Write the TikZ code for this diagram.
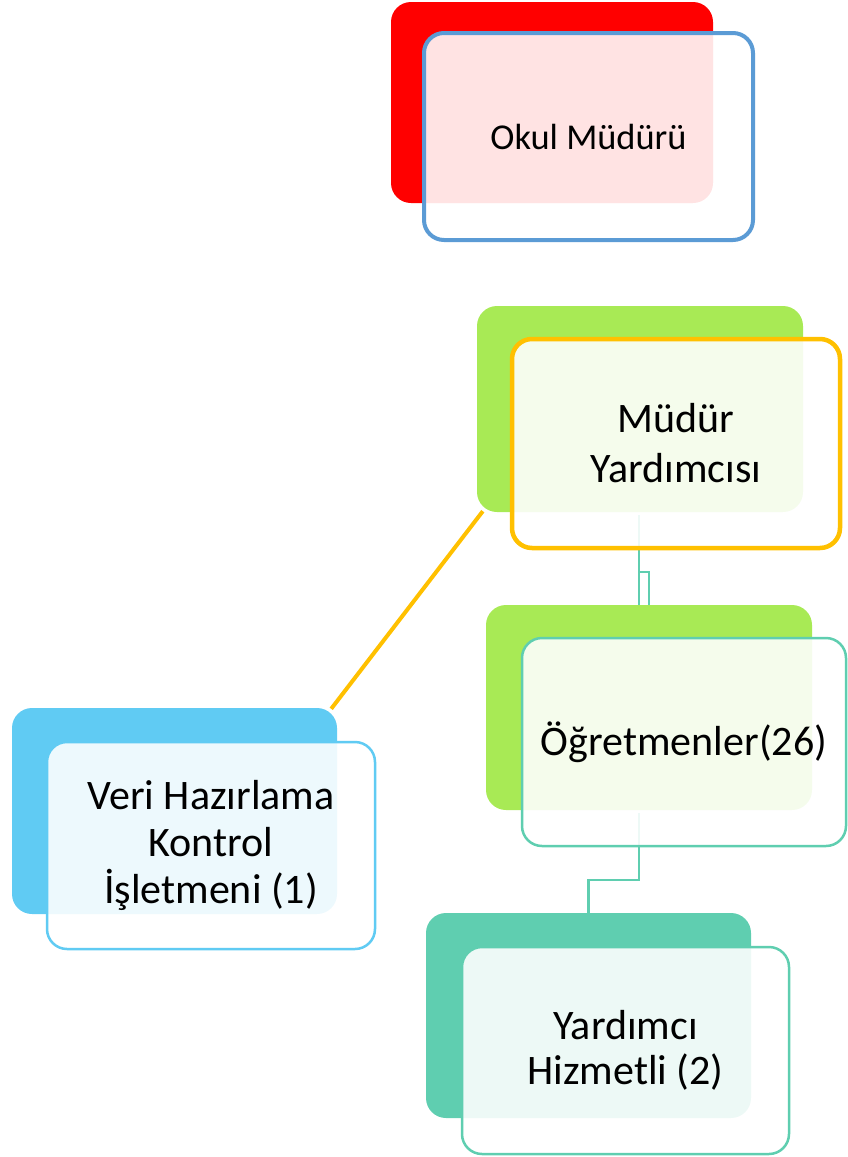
\documentclass[tikz,border=0pt]{standalone}
\usepackage{fontspec}
\setmainfont{Carlito}
\usetikzlibrary{calc}
\definecolor{cRed}{HTML}{FF0000}
\definecolor{cBlue}{HTML}{5B9BD5}
\definecolor{cGreen}{HTML}{A8EA55}
\definecolor{cOrange}{HTML}{FFC000}
\definecolor{cTeal}{HTML}{5FCEB0}
\definecolor{cSky}{HTML}{60CBF3}
\begin{document}
\begin{tikzpicture}[x=1pt,y=-1pt,
  backbox/.style={rectangle, rounded corners=20pt, inner sep=0pt, minimum width=325pt, minimum height=205pt},
  frontbox/.style={rectangle, rounded corners=20pt, fill=white, fill opacity=0.89, text opacity=1,
    text=black, inner sep=0pt, align=center, minimum width=328pt, minimum height=208pt},
  tealline/.style={draw=cTeal, line width=2.5pt},
  orangeline/.style={draw=cOrange, line width=4pt},
]
\useasboundingbox (0,0) rectangle (847,1157);

% back boxes
\node[backbox, fill=cRed, minimum width=322pt, minimum height=201pt] (b1back) at (552,102.5) {};
\node[backbox, fill=cGreen, minimum width=326pt, minimum height=206pt] (b2back) at (640,409) {};
\node[backbox, fill=cGreen, minimum width=326pt, minimum height=205pt] (b3back) at (649,707.5) {};
\node[backbox, fill=cSky, minimum width=325pt, minimum height=206pt] (b4back) at (174.5,811) {};
\node[backbox, fill=cTeal, minimum width=325pt, minimum height=205pt] (b5back) at (588.5,1015.5) {};

% connectors
\draw[orangeline] ($(b2back.south west)+(6,-1)$) -- ($(b4back.north east)+(-6,1)$);
\coordinate (a0) at (639,515);
\coordinate (a1) at (639,572);
\draw[tealline] (a0) -- (a0 |- b3back.north);
\draw[tealline] (a1) -| (b3back.north);
\coordinate (c0) at (639,813);
\coordinate (c1) at (639,880);
\draw[tealline] (c0) -- (c1) -| (b5back.north);

% front boxes
\node[frontbox, draw=cBlue, line width=4pt, minimum width=329pt, minimum height=207pt,
  font=\fontsize{36.4}{44}\selectfont] (b1) at (588.5,136.5) {Okul Müdürü};
\node[frontbox, draw=cOrange, line width=4.5pt, minimum width=328pt, minimum height=209pt,
  font=\fontsize{42}{50}\selectfont] (b2) at (676,443.5) {Müdür\\Yardımcısı};
\node[frontbox, draw=cTeal, line width=2.5pt, minimum width=324pt, minimum height=208pt,
  font=\fontsize{42}{50}\selectfont] (b3) at (684,742) {Öğretmenler(26)};
\node[frontbox, draw=cSky, line width=2.5pt, minimum width=328pt, minimum height=207pt,
  font=\fontsize{42}{47}\selectfont] (b4) at (211,845.5) {Veri Hazırlama\\Kontrol\\İşletmeni (1)};
\node[frontbox, draw=cTeal, line width=2.5pt, minimum width=327pt, minimum height=207pt,
  font=\fontsize{42}{45}\selectfont] (b5) at (625.5,1050.5) {Yardımcı\\Hizmetli (2)};
\end{tikzpicture}
\end{document}
